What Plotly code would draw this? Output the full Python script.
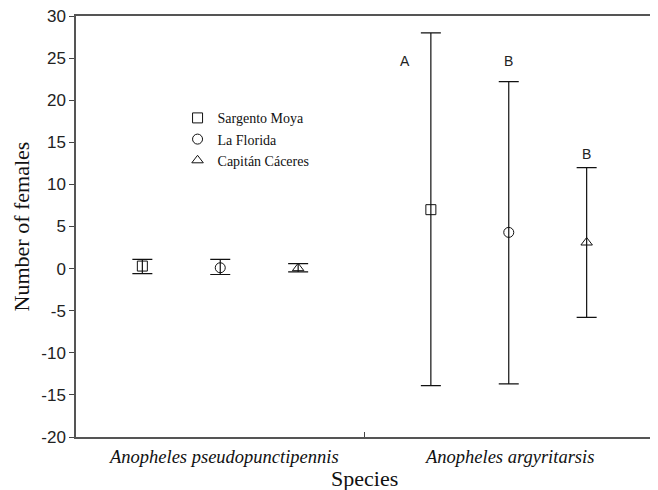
import plotly.graph_objects as go

species = ["Anopheles pseudopunctipennis", "Anopheles argyritarsis"]
sites = ["Sargento Moya", "La Florida", "Capitán Cáceres"]
symbols = ["square-open", "circle-open", "triangle-up-open"]

mean_sm = [0.3, 7.0]
mean_lf = [0.1, 4.3]
mean_cc = [0.05, 3.1]
upper_sm = [1.1, 28.0]
upper_lf = [1.1, 22.2]
upper_cc = [0.6, 12.0]
lower_sm = [-0.6, -13.9]
lower_lf = [-0.7, -13.7]
lower_cc = [-0.4, -5.8]

letters = ["A", "B", "B"]
letter_y = [24.7, 24.7, 13.6]

yticks = [30, 25, 20, 15, 10, 5, 0, -5, -10, -15, -20]
ytick_text = ["30", "25", "20", "15", "10", "5", "0", "-5", "-10", "-15", "-20"]

means = [mean_sm, mean_lf, mean_cc]
uppers = [upper_sm, upper_lf, upper_cc]
lowers = [lower_sm, lower_lf, lower_cc]
offsets = [-0.27, 0.0, 0.27]
group_centers = [0.5, 1.5]

fig = go.Figure()
for i, site in enumerate(sites):
    xs = [g + offsets[i] for g in group_centers]
    m = means[i]
    up = [uppers[i][k] - m[k] for k in range(2)]
    dn = [m[k] - lowers[i][k] for k in range(2)]
    fig.add_trace(go.Scatter(
        x=xs, y=m, mode="markers", name=site,
        marker=dict(symbol=symbols[i], size=10, color="#111",
                    line=dict(width=1, color="#111")),
        error_y=dict(type="data", symmetric=False, array=up, arrayminus=dn,
                     color="#111", thickness=1.2, width=10),
    ))

letter_x = [1.5 - 0.27 - 0.09, 1.5, 1.5 + 0.27]
for t, lx, ly in zip(letters, letter_x, letter_y):
    fig.add_annotation(x=lx, y=ly, text=t, showarrow=False,
                       font=dict(family="Liberation Sans, Arial", size=14, color="#222"))

label_x = [0.51, 1.5]
for s, lx in zip(species, label_x):
    fig.add_annotation(x=lx, y=-0.047, xref="x", yref="paper", text="<i>" + s + "</i>",
                       showarrow=False, yanchor="middle",
                       font=dict(family="Liberation Serif, Times New Roman", size=18.5, color="#111"))

fig.add_annotation(x=1.0, y=-0.098, xref="x", yref="paper", text="Species",
                   showarrow=False, yanchor="middle",
                   font=dict(family="Liberation Serif, Times New Roman", size=22, color="#111"))

fig.update_layout(
    width=658, height=490,
    margin=dict(l=68, r=13, t=8, b=61),
    plot_bgcolor="white", paper_bgcolor="white",
    showlegend=True,
    legend=dict(x=0.176, y=0.795, xanchor="left", yanchor="top",
                bgcolor="rgba(0,0,0,0)", itemwidth=30, tracegroupgap=0,
                font=dict(family="Liberation Serif, Times New Roman", size=14, color="#111")),
    xaxis=dict(range=[0, 2], tickvals=[1], ticktext=[""], ticks="inside", ticklen=5,
               tickcolor="#444", showgrid=False, zeroline=False, automargin=False,
               showline=True, linecolor="#555", linewidth=1.5, mirror=True),
    yaxis=dict(range=[-20, 30], tickvals=yticks, ticktext=ytick_text, ticks="outside", ticklen=5,
               tickcolor="#444", showgrid=False, zeroline=False, automargin=False,
               ticklabeloverflow="allow",
               showline=True, linecolor="#555", linewidth=1.5, mirror=True,
               tickfont=dict(family="Liberation Sans, Arial", size=17, color="#222"),
               title=dict(text="Number of females", standoff=6,
                          font=dict(family="Liberation Serif, Times New Roman", size=22, color="#111"))),
)

fig.write_html("out.html")
